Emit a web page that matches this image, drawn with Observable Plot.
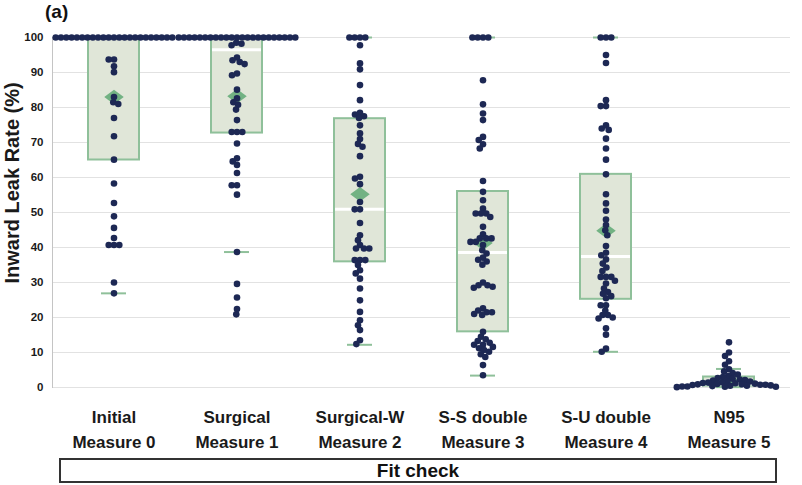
<!DOCTYPE html>
<html><head><meta charset="utf-8">
<script src="https://cdn.jsdelivr.net/npm/d3@7"></script>
<script src="https://cdn.jsdelivr.net/npm/@observablehq/plot@0.6"></script>
<style>
body{margin:0;background:#fff;font-family:"Liberation Sans",Arial,sans-serif;}
#wrap{width:802px;height:485px;position:relative;overflow:hidden;}
#title{height:24px;line-height:24px;padding-left:45px;font-weight:bold;font-size:19px;color:#111;}
#chart svg{display:block;}
#fit{position:absolute;left:59px;top:458px;width:714px;height:21px;border:2px solid #333;text-align:center;font-weight:bold;font-size:19px;line-height:22px;color:#111;}
</style></head><body>
<div id="wrap"><div id="title">(a)</div><div id="chart"></div><div id="fit">Fit check</div></div>
<script>
const categories = ["Initial", "Surgical", "Surgical-W", "S-S double", "S-U double", "N95"];
const measures = ["Measure 0", "Measure 1", "Measure 2", "Measure 3", "Measure 4", "Measure 5"];
const yTicks = [0, 10, 20, 30, 40, 50, 60, 70, 80, 90, 100];
const yLabel = "Inward Leak Rate (%)";

// box statistics
const q1 = [65.0, 72.7, 35.9, 15.9, 25.2, 0.4];
const medians = [100, 96.5, 50.9, 38.6, 37.4, 1.0];
const q3 = [100, 100, 76.8, 56.0, 60.9, 3.0];
const whiskerLow = [26.9, 38.7, 12.2, 3.4, 10.2, 0.1];
const whiskerHigh = [100, 100, 100, 100, 100, 5.3];
const means = [83.0, 83.2, 55.2, 41.3, 44.8, 2.0];

const initialValues = [100,100,100,100,100,100,100,100,100,100,100,100,100,100,100,100,100,100,100,100,100,100,100,
  93.7, 93.7, 91.8, 90.1, 83.0, 81.5, 81.0, 77.0, 71.8, 65.1, 58.3, 52.7, 48.9, 45.6, 42.7, 40.7, 40.7, 40.7, 30.0, 26.9];
const surgicalValues = [100,100,100,100,100,100,100,100,100,100,100,100,100,100,100,100,100,100,100,100,100,100,100,
  98.5, 98.2, 97.8, 94.3, 93.5, 93.0, 92.4, 89.7, 89.2, 85.1, 82.6, 81.5, 80.8, 79.4, 76.4, 73.0, 73.0, 73.0, 69.7,
  65.5, 64.6, 63.6, 61.3, 57.8, 57.8, 55.1, 38.7, 29.6, 25.7, 22.4, 20.9];
const surgicalWValues = [100, 100, 100, 100, 97.8, 92.6, 90.9, 86.4, 82.1, 78.5, 78.0, 77.5, 77.0, 74.9, 72.6, 71.0,
  69.6, 68.8, 66.1, 60.2, 59.7, 58.1, 53.0, 50.9, 50.9, 47.0, 43.5, 42.1, 40.7, 39.7, 39.7, 39.7, 36.4, 36.4, 36.4,
  35.0, 33.5, 32.6, 31.1, 28.3, 24.9, 21.6, 19.2, 17.8, 16.4, 13.5, 12.4];
const ssDoubleValues = [100, 100, 100, 100, 87.8, 80.9, 78.3, 76.4, 71.6, 70.7, 69.5, 68.3, 59.0, 55.9, 53.5, 51.1,
  49.7, 49.7, 49.7, 48.7, 45.9, 43.8, 42.6, 42.6, 42.6, 41.6, 41.6, 40.7, 39.2, 38.3, 37.1, 36.5, 36.0, 35.1, 30.0,
  29.2, 29.2, 28.8, 28.5, 22.6, 22.0, 21.5, 21.5, 21.0, 20.7, 15.9, 14.5, 13.8, 13.3, 12.8, 12.2, 12.2, 11.6, 11.2,
  10.7, 10.2, 9.5, 8.7, 6.4, 3.5];
const suDoubleValues = [100, 100, 100, 95.0, 92.7, 82.1, 80.4, 80.4, 74.9, 74.0, 73.6, 71.1, 68.3, 65.1, 60.9, 55.2,
  52.6, 50.5, 48.0, 46.4, 44.9, 43.5, 40.4, 38.5, 37.8, 36.6, 35.4, 34.3, 33.3, 31.6, 31.6, 31.6, 30.5, 29.7, 28.3,
  27.3, 26.8, 26.1, 25.5, 23.5, 23.5, 22.0, 20.7, 20.7, 20.0, 19.7, 16.9, 15.1, 11.1, 10.2];
const n95Values = [12.9, 10.0, 9.0, 7.5, 6.5, 5.2, 4.6, 4.1, 3.7, 3.3, 3.0, 2.7, 2.5, 2.3, 2.1, 2.0, 1.8, 1.7, 1.5,
  1.4, 1.3, 1.2, 1.1, 1.0, 0.9, 0.9, 0.8, 0.8, 0.7, 0.6, 0.5, 0.5, 0.4, 0.3, 0.3,
  0.2, 0.2, 0.1];

const groupValues = [initialValues, surgicalValues, surgicalWValues, ssDoubleValues, suDoubleValues, n95Values];
const rows = [];
groupValues.forEach((vals, gi) => vals.forEach(v => rows.push({group: categories[gi], value: v})));
const stats = categories.map((c, i) => ({group: c, q1: q1[i], median: medians[i], q3: q3[i],
  lo: whiskerLow[i], hi: whiskerHigh[i], mean: means[i]}));

const wideDiamond = {
  draw(context, size) {
    const s = Math.sqrt(size / Math.PI);
    context.moveTo(-1.15 * s, 0);
    context.lineTo(0, -0.85 * s);
    context.lineTo(1.15 * s, 0);
    context.lineTo(0, 0.85 * s);
    context.closePath();
  }
};

const green = "#8fc09a";
const plot = Plot.plot({
  width: 802, height: 428,
  marginTop: 13, marginBottom: 65, marginLeft: 49, marginRight: 10,
  fx: {domain: categories, padding: 0, label: null, axis: null},
  y: {domain: [0, 100], label: null, axis: null},
  style: {fontFamily: "Liberation Sans, Arial, sans-serif", color: "#1a1a1a", overflow: "visible"},
  marks: [
    Plot.gridY(yTicks, {stroke: "#e2e2e2", strokeOpacity: 1}),
    Plot.frame({anchor: "left", facetAnchor: "left", stroke: "#c4c4c4"}),
    Plot.axisY(yTicks, {tickSize: 0, tickPadding: 9, fontSize: 11.5, fontWeight: "bold", label: null, facetAnchor: "left"}),
    Plot.text([yLabel], {frameAnchor: "left", rotate: -90, dx: -40, dy: 71, fontSize: 20, fontWeight: "bold",
      text: d => d, facetAnchor: "left", fill: "#1a1a1a"}),
    Plot.axisFx({anchor: "bottom", tickSize: 0, tickPadding: 18, fontSize: 17, fontWeight: "bold", lineHeight: 1.47,
      label: null, tickFormat: d => d + "\n" + measures[categories.indexOf(d)]}),
    Plot.ruleX(stats, {fx: "group", y1: "lo", y2: "hi", stroke: green, strokeWidth: 2}),
    Plot.rect(stats, {fx: "group", y1: "q1", y2: "q3", fill: "#e0e6d8", stroke: green, strokeWidth: 2,
      insetLeft: 36, insetRight: 36}),
    Plot.tickY(stats, {fx: "group", y: "lo", stroke: green, strokeWidth: 2, insetLeft: 49, insetRight: 49}),
    Plot.tickY(stats, {fx: "group", y: "hi", stroke: green, strokeWidth: 2, insetLeft: 49, insetRight: 49}),
    Plot.tickY(stats, {fx: "group", y: "median", stroke: "white", strokeWidth: 3, insetLeft: 37, insetRight: 37}),
    Plot.dot(stats, {fx: "group", y: "mean", symbol: wideDiamond, r: 8.5, fill: "#72b283", stroke: "none"}),
    Plot.dot(rows, Plot.dodgeX({anchor: "middle", padding: -1.3}, {fx: "group", y: "value", r: 3.3, fill: "#1d2854", stroke: "none"}))
  ]
});
document.getElementById("chart").appendChild(plot);
</script>
</body></html>
